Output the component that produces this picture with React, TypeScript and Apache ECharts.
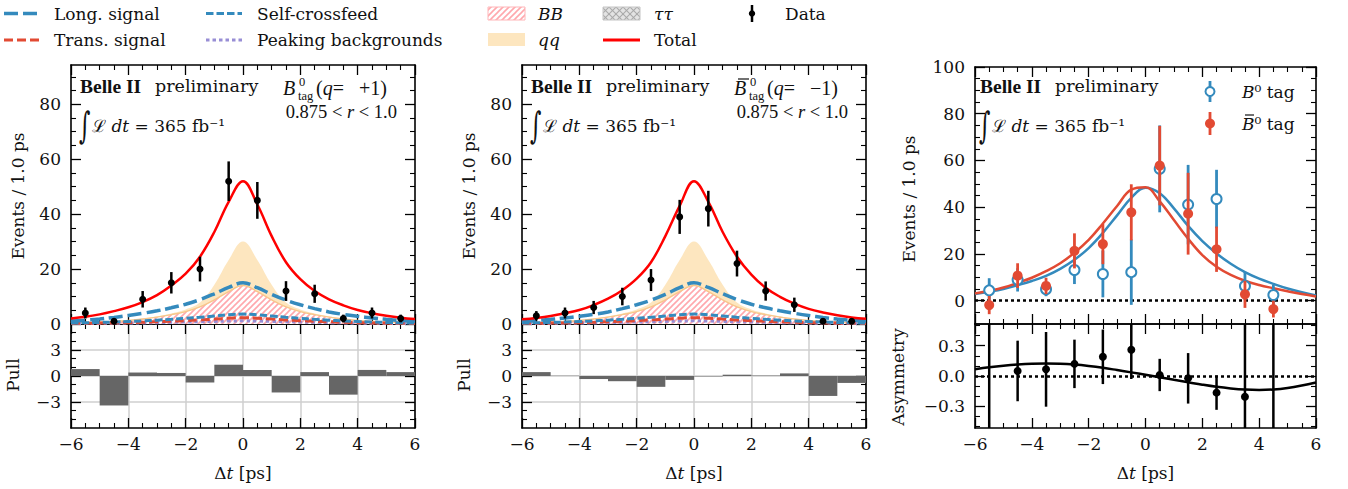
import React, { useEffect, useRef } from "react";
import * as echarts from "echarts";

const FONT = "DejaVu Serif";
const CMFONT = "Liberation Serif";
const INK = "#111111";
const BLUE = "#348ABD";
const RED = "#E24A33";
const PURPLE = "#988ED5";
const PINK = "#FFB5B8";
const HATCH_PINK = "#ffa8ad";
const TOTAL_RED = "#ff0000";
const QQ_FILL = "rgba(251,193,94,0.4)";
const W = 1348;
const H = 489;

// ---- fitted curves, sampled in Δt (ps) ----
const tCurve = [-6, -5.5, -5, -4.5, -4, -3.5, -3, -2.5, -2, -1.5, -1, -0.5, 0, 0.5, 1, 1.5, 2, 2.5, 3, 3.5, 4, 4.5, 5, 5.5, 6];
const totalPlus = [2.0, 2.6, 3.5, 4.7, 6.1, 8.0, 10.5, 14.0, 18.3, 24.5, 33.5, 44.5, 52.0, 43.5, 32.0, 22.5, 16.3, 12.0, 9.0, 6.8, 5.1, 3.9, 3.0, 2.3, 1.8];
const totalMinus = [1.7, 2.2, 2.9, 3.9, 5.1, 6.9, 9.2, 12.3, 16.5, 22.5, 32.0, 43.0, 52.0, 44.5, 33.5, 24.5, 18.0, 13.2, 9.9, 7.4, 5.5, 4.2, 3.2, 2.4, 1.9];
const longPlus = [1.1, 1.4, 1.8, 2.4, 3.1, 3.9, 4.8, 5.9, 7.2, 8.9, 11.0, 13.3, 15.0, 13.2, 10.8, 8.7, 7.0, 5.6, 4.4, 3.5, 2.8, 2.2, 1.7, 1.3, 1.0];
const longMinus = [1.0, 1.3, 1.7, 2.2, 2.8, 3.5, 4.4, 5.6, 7.0, 8.7, 10.8, 13.2, 15.0, 13.3, 11.0, 8.9, 7.2, 5.9, 4.8, 3.9, 3.1, 2.4, 1.8, 1.4, 1.1];
const selfCrossfeed = [0.35, 0.45, 0.58, 0.72, 0.9, 1.12, 1.4, 1.7, 2.05, 2.45, 2.9, 3.35, 3.6, 3.35, 2.9, 2.45, 2.05, 1.7, 1.4, 1.12, 0.9, 0.72, 0.58, 0.45, 0.35];
const transSignal = [0.2, 0.25, 0.32, 0.4, 0.5, 0.63, 0.8, 1.0, 1.22, 1.48, 1.78, 2.1, 2.3, 2.1, 1.78, 1.48, 1.22, 1.0, 0.8, 0.63, 0.5, 0.4, 0.32, 0.25, 0.2];
const peakingBkg = [0.15, 0.18, 0.22, 0.27, 0.33, 0.4, 0.5, 0.6, 0.72, 0.83, 0.95, 1.08, 1.15, 1.08, 0.95, 0.83, 0.72, 0.6, 0.5, 0.4, 0.33, 0.27, 0.22, 0.18, 0.15];
const bbBkg = [0.35, 0.5, 0.7, 0.95, 1.3, 1.8, 2.5, 3.4, 4.5, 6.2, 8.8, 11.8, 14.0, 11.8, 8.8, 6.2, 4.5, 3.4, 2.5, 1.8, 1.3, 0.95, 0.7, 0.5, 0.35];
const qqBkg = [0.1, 0.11, 0.13, 0.15, 0.18, 0.22, 0.3, 0.45, 0.8, 1.6, 5.5, 11.5, 16.0, 11.5, 5.5, 1.6, 0.8, 0.45, 0.3, 0.22, 0.18, 0.15, 0.13, 0.11, 0.1];

// ---- binned data ----
const binCenters = [-5.5, -4.5, -3.5, -2.5, -1.5, -0.5, 0.5, 1.5, 2.5, 3.5, 4.5, 5.5];
const binEdges = [-6, -5, -4, -3, -2, -1, 0, 1, 2, 3, 4, 5, 6];
const dataPlus = [4, 1, 9, 15, 20, 52, 45, 12, 11, 2, 4, 2];
const errPlus = [2.0, 1.0, 3.0, 3.9, 4.5, 7.2, 6.7, 3.6, 3.3, 1.4, 2.0, 1.4];
const dataMinus = [3, 4, 6, 10, 16, 39, 42, 22, 12, 7, 1, 1];
const errMinus = [1.7, 2.0, 2.4, 3.2, 4.0, 6.2, 6.5, 4.7, 3.5, 2.6, 1.0, 1.0];
const pullPlus = [0.8, -3.4, 0.4, 0.35, -0.75, 1.3, 0.7, -1.9, 0.45, -2.15, 0.7, 0.45];
const pullMinus = [0.45, 0.03, -0.35, -0.6, -1.25, -0.45, -0.05, 0.15, 0.05, 0.3, -2.3, -0.8];

// ---- right panel ----
const asymCenters = [-5.5, -4.5, -3.5, -2.5, -1.5, -0.5, 0.5, 1.5, 2.5, 3.5, 4.5];
const yieldB0 = [4.4, 8.9, 4.9, 13.1, 11.4, 12.2, 56.4, 41.1, 43.5, 6.3, 2.4];
const errB0 = [5.2, 5.0, 3.0, 6.0, 10.0, 14.0, 18.6, 17.0, 12.5, 6.0, 4.4];
const yieldB0bar = [-1.9, 10.7, 6.3, 21.3, 24.2, 37.8, 57.8, 37.2, 22.0, 2.7, -3.6];
const errB0bar = [3.9, 5.3, 3.5, 7.5, 8.6, 12.0, 17.0, 17.5, 9.7, 5.8, 3.6];
const fitB0 = [2.8, 3.8, 5.0, 6.6, 8.4, 10.6, 13.6, 17.5, 22.5, 29.0, 36.5, 44.0, 48.3, 46.0, 39.5, 32.0, 25.5, 20.2, 15.8, 12.2, 9.4, 7.2, 5.2, 3.6, 2.2];
const fitB0bar = [3.1, 4.2, 5.6, 7.6, 9.8, 12.6, 16.0, 20.5, 26.0, 33.0, 40.5, 47.5, 48.5, 42.5, 34.5, 26.5, 19.5, 14.5, 11.0, 8.5, 6.7, 5.3, 4.0, 2.8, 1.8];
const asymData = [2.5, 0.05, 0.066, 0.12, 0.19, 0.26, 0.01, -0.023, -0.165, -0.205, -5.0];
const asymErr = [6.0, 0.3, 0.37, 0.24, 0.27, 0.29, 0.16, 0.25, 0.17, 1.2, 10.0];
const asymFit = [0.066, 0.086, 0.102, 0.114, 0.122, 0.125, 0.122, 0.113, 0.099, 0.081, 0.059, 0.036, 0.012, -0.013, -0.038, -0.062, -0.086, -0.107, -0.123, -0.134, -0.138, -0.133, -0.118, -0.094, -0.064];

// ---- tick values ----
const eventsMajor = [0, 20, 40, 60, 80];
const eventsMinor = [5, 10, 15, 25, 30, 35, 45, 50, 55, 65, 70, 75, 85, 90];
const pullMajor = [-3, 0, 3];
const pullMinor = [-5, -4, -2, -1, 1, 2, 4, 5];
const rightMajor = [0, 20, 40, 60, 80, 100];
const rightMinor = [-5, 5, 10, 15, 25, 30, 35, 45, 50, 55, 65, 70, 75, 85, 90, 95];
const asymMajor = [-0.3, 0, 0.3];
const asymMinor = [-0.5, -0.4, -0.2, -0.1, 0.1, 0.2, 0.4, 0.5];

// ---- layout ----
const GRIDS = [
  { left: 71, top: 65, width: 344, height: 259 },
  { left: 71, top: 324, width: 344, height: 104 },
  { left: 522, top: 65, width: 344, height: 259 },
  { left: 522, top: 324, width: 344, height: 104 },
  { left: 975, top: 67, width: 341, height: 257 },
  { left: 975, top: 324, width: 341, height: 104 },
];
const YR: number[][] = [[0, 94.3], [-6, 6], [0, 94.3], [-6, 6], [-10, 100], [-0.515, 0.515]];

const fmt = (v: number, d = 0) => {
  const r = Number(v.toFixed(d));
  const s = Math.abs(r).toFixed(d);
  return r < 0 ? "\u2212" + s : s;
};

function pattern(color: string, bg: string | null, cross: boolean, s = 7, lw = 1.1) {
  const c = document.createElement("canvas");
  c.width = s;
  c.height = s;
  const ctx = c.getContext("2d")!;
  if (bg) {
    ctx.fillStyle = bg;
    ctx.fillRect(0, 0, s, s);
  }
  ctx.strokeStyle = color;
  ctx.lineWidth = lw;
  const ln = (a: number, b: number, x: number, y: number) => {
    ctx.beginPath();
    ctx.moveTo(a, b);
    ctx.lineTo(x, y);
    ctx.stroke();
  };
  ln(-1, s + 1, s + 1, -1);
  ln(-1, 1, 1, -1);
  ln(s - 1, s + 1, s + 1, s - 1);
  if (cross) {
    ln(-1, -1, s + 1, s + 1);
    ln(s - 1, -1, s + 1, 1);
    ln(-1, s - 1, 1, s + 1);
  }
  return { image: c, repeat: "repeat" };
}

const axisLine = { show: true, onZero: false, lineStyle: { color: "#000", width: 1.6 } };
const tickStyle = { color: "#000", width: 1.3 };
const labelStyle = { fontSize: 17, fontFamily: FONT, color: INK };

function xAxesFor(g: number, labels: boolean, gridLines: boolean) {
  const base: any = {
    type: "value", gridIndex: g, min: -6, max: 6, interval: 2,
    axisLine,
    axisTick: { show: true, inside: true, length: 10, lineStyle: tickStyle },
    minorTick: { show: true, splitNumber: 4, length: 5, lineStyle: { color: "#000", width: 1.1 } },
    splitLine: { show: false },
  };
  return [
    {
      ...base, position: "bottom",
      axisLabel: { show: labels, margin: 7, ...labelStyle, formatter: (v: number) => fmt(v) },
      splitLine: { show: gridLines, lineStyle: { color: "#cfcfcf", width: 1.5 } },
    },
    { ...base, position: "top", axisLabel: { show: false } },
  ];
}

function yAxesFor(g: number, major: number[], minor: number[], digits: number, gridLines: boolean) {
  const [min, max] = YR[g];
  const mk = (pos: string, isMinor: boolean) => ({
    type: "value", gridIndex: g, min, max, position: pos,
    axisLine: isMinor ? { show: false, onZero: false } : axisLine,
    axisTick: { show: true, inside: true, length: isMinor ? 5 : 10, customValues: isMinor ? minor : major, lineStyle: isMinor ? { color: "#000", width: 1.1 } : tickStyle },
    minorTick: { show: false },
    axisLabel: { show: pos === "left" && !isMinor, customValues: major, margin: 10, ...labelStyle, formatter: (v: number) => fmt(v, digits) },
    splitLine: { show: gridLines && pos === "left" && !isMinor, lineStyle: { color: "#cfcfcf", width: 1.5 } },
  });
  return [mk("left", false), mk("left", true), mk("right", false), mk("right", true)];
}

const zip = (xs: number[], ys: number[]) => xs.map((x, i) => [x, ys[i]]);

function lineS(g: number, ys: number[], ls: any, extra: any = {}) {
  return {
    type: "line", xAxisIndex: 2 * g, yAxisIndex: 4 * g, data: zip(tCurve, ys),
    symbol: "none", showSymbol: false, smooth: 0.4, silent: true, lineStyle: ls, z: 3, ...extra,
  };
}

function errS(g: number, xs: number[], ys: number[], es: number[], color: string, width: number, z = 5) {
  const [lo, hi] = YR[g];
  return {
    type: "custom", xAxisIndex: 2 * g, yAxisIndex: 4 * g, silent: true, z, clip: true,
    data: xs.map((x, i) => [x, ys[i], es[i]]),
    encode: { x: 0, y: 1 },
    renderItem: (_p: any, api: any) => {
      const x = api.value(0), y = api.value(1), e = api.value(2);
      const a = api.coord([x, Math.max(lo, y - e)]);
      const b = api.coord([x, Math.min(hi, y + e)]);
      return { type: "line", shape: { x1: a[0], y1: a[1], x2: b[0], y2: b[1] }, style: { stroke: color, lineWidth: width } };
    },
  };
}

function ptS(g: number, xs: number[], ys: number[], size: number, style: any, z = 6) {
  return { type: "scatter", xAxisIndex: 2 * g, yAxisIndex: 4 * g, data: zip(xs, ys), symbol: "circle", symbolSize: size, itemStyle: { opacity: 1, ...style }, silent: true, z, clip: true };
}

function pullS(g: number, vals: number[]) {
  return {
    type: "custom", xAxisIndex: 2 * g, yAxisIndex: 4 * g, silent: true, z: 3,
    data: vals.map((v, i) => [binEdges[i], binEdges[i + 1], v]),
    encode: { x: [0, 1], y: 2 },
    renderItem: (_p: any, api: any) => {
      const a = api.coord([api.value(0), 0]);
      const b = api.coord([api.value(1), api.value(2)]);
      return { type: "rect", shape: { x: a[0], y: Math.min(a[1], b[1]), width: b[0] - a[0], height: Math.abs(b[1] - a[1]) }, style: { fill: "#666666" } };
    },
  };
}

function T(x: number, y: number, text: string, o: any = {}) {
  const { align = "left", va = "middle", size = 17, rotation = 0, scaleY = 1, ...rest } = o;
  return {
    type: "text", x, y, rotation, scaleY, silent: true, z: 20,
    style: { text, fontFamily: FONT, fontSize: size, fill: INK, align, verticalAlign: va, textAlign: align, textVerticalAlign: va, ...rest },
  };
}
const richI = (size: number, family = FONT) => ({ i: { fontFamily: family, fontSize: size, fontStyle: "italic", fill: INK } });
const L = (x1: number, y1: number, x2: number, y2: number, stroke: string, lineWidth: number, lineDash?: number[]) => ({
  type: "line", silent: true, z: 20, shape: { x1, y1, x2, y2 }, style: { stroke, lineWidth, lineDash },
});

function buildOption() {
  const hatch = pattern(HATCH_PINK, "#ffffff", false, 6, 1.6);
  const hatchLegend = pattern(HATCH_PINK, "#ffffff", false, 6, 1.6);
  const cross = pattern("#a9a9a9", "#e3e3e3", true);

  const xAxis: any[] = [];
  const yAxis: any[] = [];
  xAxis.push(...xAxesFor(0, false, false), ...xAxesFor(1, true, true), ...xAxesFor(2, false, false), ...xAxesFor(3, true, true), ...xAxesFor(4, false, false), ...xAxesFor(5, true, false));
  yAxis.push(
    ...yAxesFor(0, eventsMajor, eventsMinor, 0, false),
    ...yAxesFor(1, pullMajor, pullMinor, 0, true),
    ...yAxesFor(2, eventsMajor, eventsMinor, 0, false),
    ...yAxesFor(3, pullMajor, pullMinor, 0, true),
    ...yAxesFor(4, rightMajor, rightMinor, 0, false),
    ...yAxesFor(5, asymMajor, asymMinor, 1, false),
  );

  // cumulative background (BB + qq), drawn as the qq band's upper edge
  const bbPlusQq = bbBkg.map((v, i) => v + qqBkg[i]);

  const series: any[] = [];
  const mainPanel = (g: number, total: number[], long: number[], data: number[], err: number[]) => {
    series.push(lineS(g, bbPlusQq, { width: 0, opacity: 0 }, { areaStyle: { color: QQ_FILL, opacity: 1, origin: "start" }, z: 1 }));
    series.push(lineS(g, bbBkg, { color: "#f8c68a", width: 1.4 }, { areaStyle: { color: hatch, opacity: 1, origin: "start" }, z: 1 }));
    series.push(lineS(g, peakingBkg, { color: PURPLE, width: 3, type: [3.5, 3] }));
    series.push(lineS(g, transSignal, { color: RED, width: 3, type: [9, 4] }));
    series.push(lineS(g, selfCrossfeed, { color: BLUE, width: 3, type: [7.5, 3] }));
    series.push(lineS(g, long, { color: BLUE, width: 3.5, type: [14, 5] }));
    series.push(lineS(g, total, { color: TOTAL_RED, width: 2.5 }, { z: 4 }));
    series.push(errS(g, binCenters, data, err, "#000", 2.5));
    series.push(ptS(g, binCenters, data, 7, { color: "#000" }));
  };
  mainPanel(0, totalPlus, longPlus, dataPlus, errPlus);
  series.push(pullS(1, pullPlus));
  mainPanel(2, totalMinus, longMinus, dataMinus, errMinus);
  series.push(pullS(3, pullMinus));

  const zeroMark = {
    silent: true, symbol: "none", label: { show: false },
    lineStyle: { color: "#000", type: [3, 3], width: 2.6 },
    data: [{ yAxis: 0 }],
  };
  series.push(lineS(4, fitB0, { color: BLUE, width: 2.5 }, { markLine: zeroMark }));
  series.push(lineS(4, fitB0bar, { color: RED, width: 2.5 }));
  series.push(errS(4, asymCenters, yieldB0, errB0, BLUE, 2.8, 5));
  series.push(ptS(4, asymCenters, yieldB0, 10, { color: "#ffffff", borderColor: BLUE, borderWidth: 2 }, 6));
  series.push(errS(4, asymCenters, yieldB0bar, errB0bar, RED, 2.8, 7));
  series.push(ptS(4, asymCenters, yieldB0bar, 10, { color: RED }, 8));

  series.push(lineS(5, asymFit, { color: "#000", width: 2.5 }, { markLine: zeroMark }));
  series.push(errS(5, asymCenters, asymData, asymErr, "#000", 2.5));
  series.push(ptS(5, asymCenters, asymData, 8, { color: "#000" }));

  // ---- graphic texts / legend ----
  const el: any[] = [];
  const y1 = 13.5, y2 = 40;
  el.push(L(4, y1, 39, y1, BLUE, 3.5, [14, 5]), T(54, y1, "Long. signal"));
  el.push(L(4, y2, 39, y2, RED, 3, [9, 4]), T(54, y2, "Trans. signal"));
  el.push(L(206, y1, 242, y1, BLUE, 3, [7.5, 3]), T(257, y1, "Self-crossfeed"));
  el.push(L(206, y2, 242, y2, PURPLE, 3, [3.5, 3]), T(257, y2, "Peaking backgrounds"));
  el.push({ type: "rect", silent: true, z: 20, shape: { x: 488, y: 7, width: 37, height: 13 }, style: { fill: hatchLegend, stroke: PINK, lineWidth: 1 } });
  el.push(T(538, y1, "BB", { fontStyle: "italic" }));
  el.push({ type: "rect", silent: true, z: 20, shape: { x: 488, y: 33, width: 37, height: 13 }, style: { fill: QQ_FILL } });
  el.push(T(538, y2, "qq", { fontStyle: "italic" }));
  el.push({ type: "rect", silent: true, z: 20, shape: { x: 603, y: 7, width: 37, height: 13 }, style: { fill: cross, stroke: "#c4c4c4", lineWidth: 1 } });
  el.push(T(654, y1, "ττ", { fontStyle: "italic" }));
  el.push(L(603, y2, 640, y2, TOTAL_RED, 3), T(654, y2, "Total"));
  el.push(L(752, 5, 752, 22, "#000", 2.5));
  el.push({ type: "circle", silent: true, z: 21, shape: { cx: 752, cy: 13.5, r: 3.2 }, style: { fill: "#000" } });
  el.push(T(785, y1, "Data"));

  const lumi = (x: number) => {
    el.push(T(x, 125, "∫", { size: 22, scaleY: 1.65 }));
    el.push(T(x + 13, 126, "ℒ {i|dt} = 365 fb⁻¹", { size: 17, rich: richI(17) }));
  };

  const annot = (ox: number, plus: boolean) => {
    el.push(T(80 + ox, 86, "Belle II", { fontWeight: "bold", size: 19.5, fontFamily: CMFONT }));
    el.push(T(155 + ox, 86, "preliminary", { size: 17.5 }));
    lumi(79 + ox);
    el.push(T(283 + ox, 88, "B", { fontStyle: "italic", size: 20, fontFamily: CMFONT }));
    if (!plus) el.push(L(287 + ox, 79, 298 + ox, 79, INK, 1.2));
    el.push(T(299 + ox, 82, "0", { size: 12.5, fontFamily: CMFONT }));
    el.push(T(298 + ox, 96, "tag", { size: 12.5, fontFamily: CMFONT }));
    el.push(T(316 + ox, 88, plus ? "({i|q}=   +1)" : "({i|q}=   \u22121)", { size: 20, fontFamily: CMFONT, rich: richI(20, CMFONT) }));
    el.push(T(397 + ox, 112, "0.875 < {i|r} < 1.0", { align: "right", size: 18.5, fontFamily: CMFONT, rich: richI(18.5, CMFONT) }));
  };
  annot(0, true);
  annot(451, false);

  el.push(T(980, 86, "Belle II", { fontWeight: "bold", size: 19.5, fontFamily: CMFONT }));
  el.push(T(1055, 86, "preliminary", { size: 17.5 }));
  lumi(979);

  // right legend
  el.push(L(1210, 81, 1210, 102, BLUE, 2.8));
  el.push({ type: "circle", silent: true, z: 21, shape: { cx: 1210, cy: 91.5, r: 4.5 }, style: { fill: "#fff", stroke: BLUE, lineWidth: 2 } });
  el.push(T(1242, 91.5, "{i|B}⁰ tag", { rich: richI(17) }));
  el.push(L(1210, 112, 1210, 135, RED, 2.8));
  el.push({ type: "circle", silent: true, z: 21, shape: { cx: 1210, cy: 123.5, r: 5 }, style: { fill: RED } });
  el.push(L(1245, 115, 1254, 115, INK, 1.2));
  el.push(T(1242, 123.5, "{i|B}⁰ tag", { rich: richI(17) }));

  const rot = Math.PI / 2;
  el.push(T(18, 196, "Events / 1.0 ps", { align: "center", rotation: rot }));
  el.push(T(13, 375, "Pull", { align: "center", rotation: rot }));
  el.push(T(469, 196, "Events / 1.0 ps", { align: "center", rotation: rot }));
  el.push(T(464, 375, "Pull", { align: "center", rotation: rot }));
  el.push(T(909, 199, "Events / 1.0 ps", { align: "center", rotation: rot }));
  el.push(T(898, 377, "Asymmetry", { align: "center", rotation: rot }));
  el.push(T(243, 473, "Δ{i|t} [ps]", { align: "center", rich: richI(17) }));
  el.push(T(694, 473, "Δ{i|t} [ps]", { align: "center", rich: richI(17) }));
  el.push(T(1145.5, 473, "Δ{i|t} [ps]", { align: "center", rich: richI(17) }));

  return {
    animation: false,
    backgroundColor: "#ffffff",
    textStyle: { fontFamily: FONT },
    grid: GRIDS.map((g) => ({ ...g, show: false, containLabel: false, outerBoundsMode: "none" })),
    xAxis,
    yAxis,
    series,
    graphic: { elements: el },
  };
}

export default function App() {
  const ref = useRef<HTMLDivElement>(null);
  useEffect(() => {
    document.body.style.margin = "0";
    const chart = echarts.init(ref.current!, undefined, { renderer: "svg", width: W, height: H });
    chart.setOption(buildOption() as any);
    return () => chart.dispose();
  }, []);
  return <div ref={ref} style={{ position: "absolute", left: 0, top: 0, width: W, height: H, background: "#fff" }} />;
}
